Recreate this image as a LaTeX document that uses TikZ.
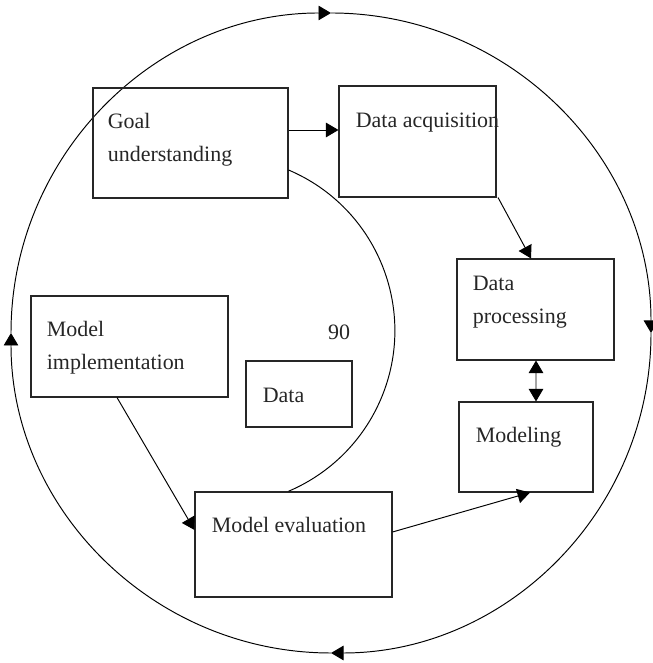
\documentclass[tikz,border=0pt]{standalone}
\usepackage{tikz}
\usepackage{xcolor}
\usepackage{fontspec}
\setmainfont{Liberation Serif}
\usetikzlibrary{shapes,arrows.meta,positioning,calc}

\begin{document}
\begin{tikzpicture}[
    >={Triangle[length=0.25cm,width=0.29cm]},
    box/.style={rectangle, draw=black!85, line width=0.6pt, inner sep=0pt},
    txt/.style={font=\fontsize{12.5}{18.8}\selectfont, align=left, inner sep=0pt, anchor=base west, text=black!85},
    link/.style={->, line width=0.55pt},
]
\useasboundingbox (0,0) rectangle (13.06,13.26);

% 外圈:顺时针循环
\coordinate (hub) at (6.62,6.60);
\draw[link] ($(hub)+(180:6.4)$) arc[start angle=180, end angle=90, radius=6.4];
\draw[link] ($(hub)+(90:6.4)$) arc[start angle=90, end angle=0, radius=6.4];
\draw[link] ($(hub)+(0:6.4)$) arc[start angle=0, end angle=-90, radius=6.4];
\draw[link] ($(hub)+(-90:6.4)$) arc[start angle=-90, end angle=-180, radius=6.4];

% 各阶段方框(多行文字以最后一行为基线)
\node[box, minimum width=3.90cm, minimum height=2.20cm] (goal) at (3.81,10.40) {};
\node[txt, xshift=0.30cm, yshift=-1.49cm] (goaltxt) at (goal.north west) {Goal\\understanding};

\node[box, minimum width=3.14cm, minimum height=2.22cm] (dacq) at (8.35,10.43) {};
\node[txt, xshift=0.34cm, yshift=-0.84cm] (dacqtxt) at (dacq.north west) {Data acquisition};

\node[box, minimum width=3.14cm, minimum height=2.02cm] (dproc) at (10.71,7.07) {};
\node[txt, xshift=0.32cm, yshift=-1.30cm] (dproctxt) at (dproc.north west) {Data\\processing};

\node[box, minimum width=2.68cm, minimum height=1.80cm] (model) at (10.52,4.32) {};
\node[txt, xshift=0.34cm, yshift=-0.82cm] (modeltxt) at (model.north west) {Modeling};

\node[box, minimum width=3.94cm, minimum height=2.10cm] (meval) at (5.87,2.37) {};
\node[txt, xshift=0.34cm, yshift=-0.82cm] (mevaltxt) at (meval.north west) {Model evaluation};

\node[box, minimum width=3.94cm, minimum height=2.02cm] (mimpl) at (2.59,6.33) {};
\node[txt, xshift=0.32cm, yshift=-1.48cm] (mimpltxt) at (mimpl.north west) {Model\\implementation};

\node[box, minimum width=2.12cm, minimum height=1.32cm] (data) at (5.98,5.38) {};
\node[txt, xshift=0.34cm, yshift=-0.84cm] (datatxt) at (data.north west) {Data};

\node[txt, anchor=center] (ninety) at (6.78,6.62) {90};

% 内部弧线
\draw[line width=0.55pt] ([yshift=-0.54cm]goal.east) arc[start angle=67, end angle=-67, radius=3.49];

% 阶段之间的箭头
\draw[link] ([yshift=0.26cm]goal.east) -- ([yshift=0.23cm]dacq.west);
\draw[link] ([xshift=1.61cm]dacq.south) -- ([xshift=-0.09cm]dproc.north);
\draw[link, <->] ([xshift=0.01cm]dproc.south) -- ([xshift=0.20cm]model.north);
\draw[link] ([yshift=0.25cm]meval.east) -- ([xshift=0.08cm]model.south);
\draw[link] ([xshift=-0.25cm]mimpl.south) -- ([yshift=0.29cm]meval.west);

\end{tikzpicture}
\end{document}
